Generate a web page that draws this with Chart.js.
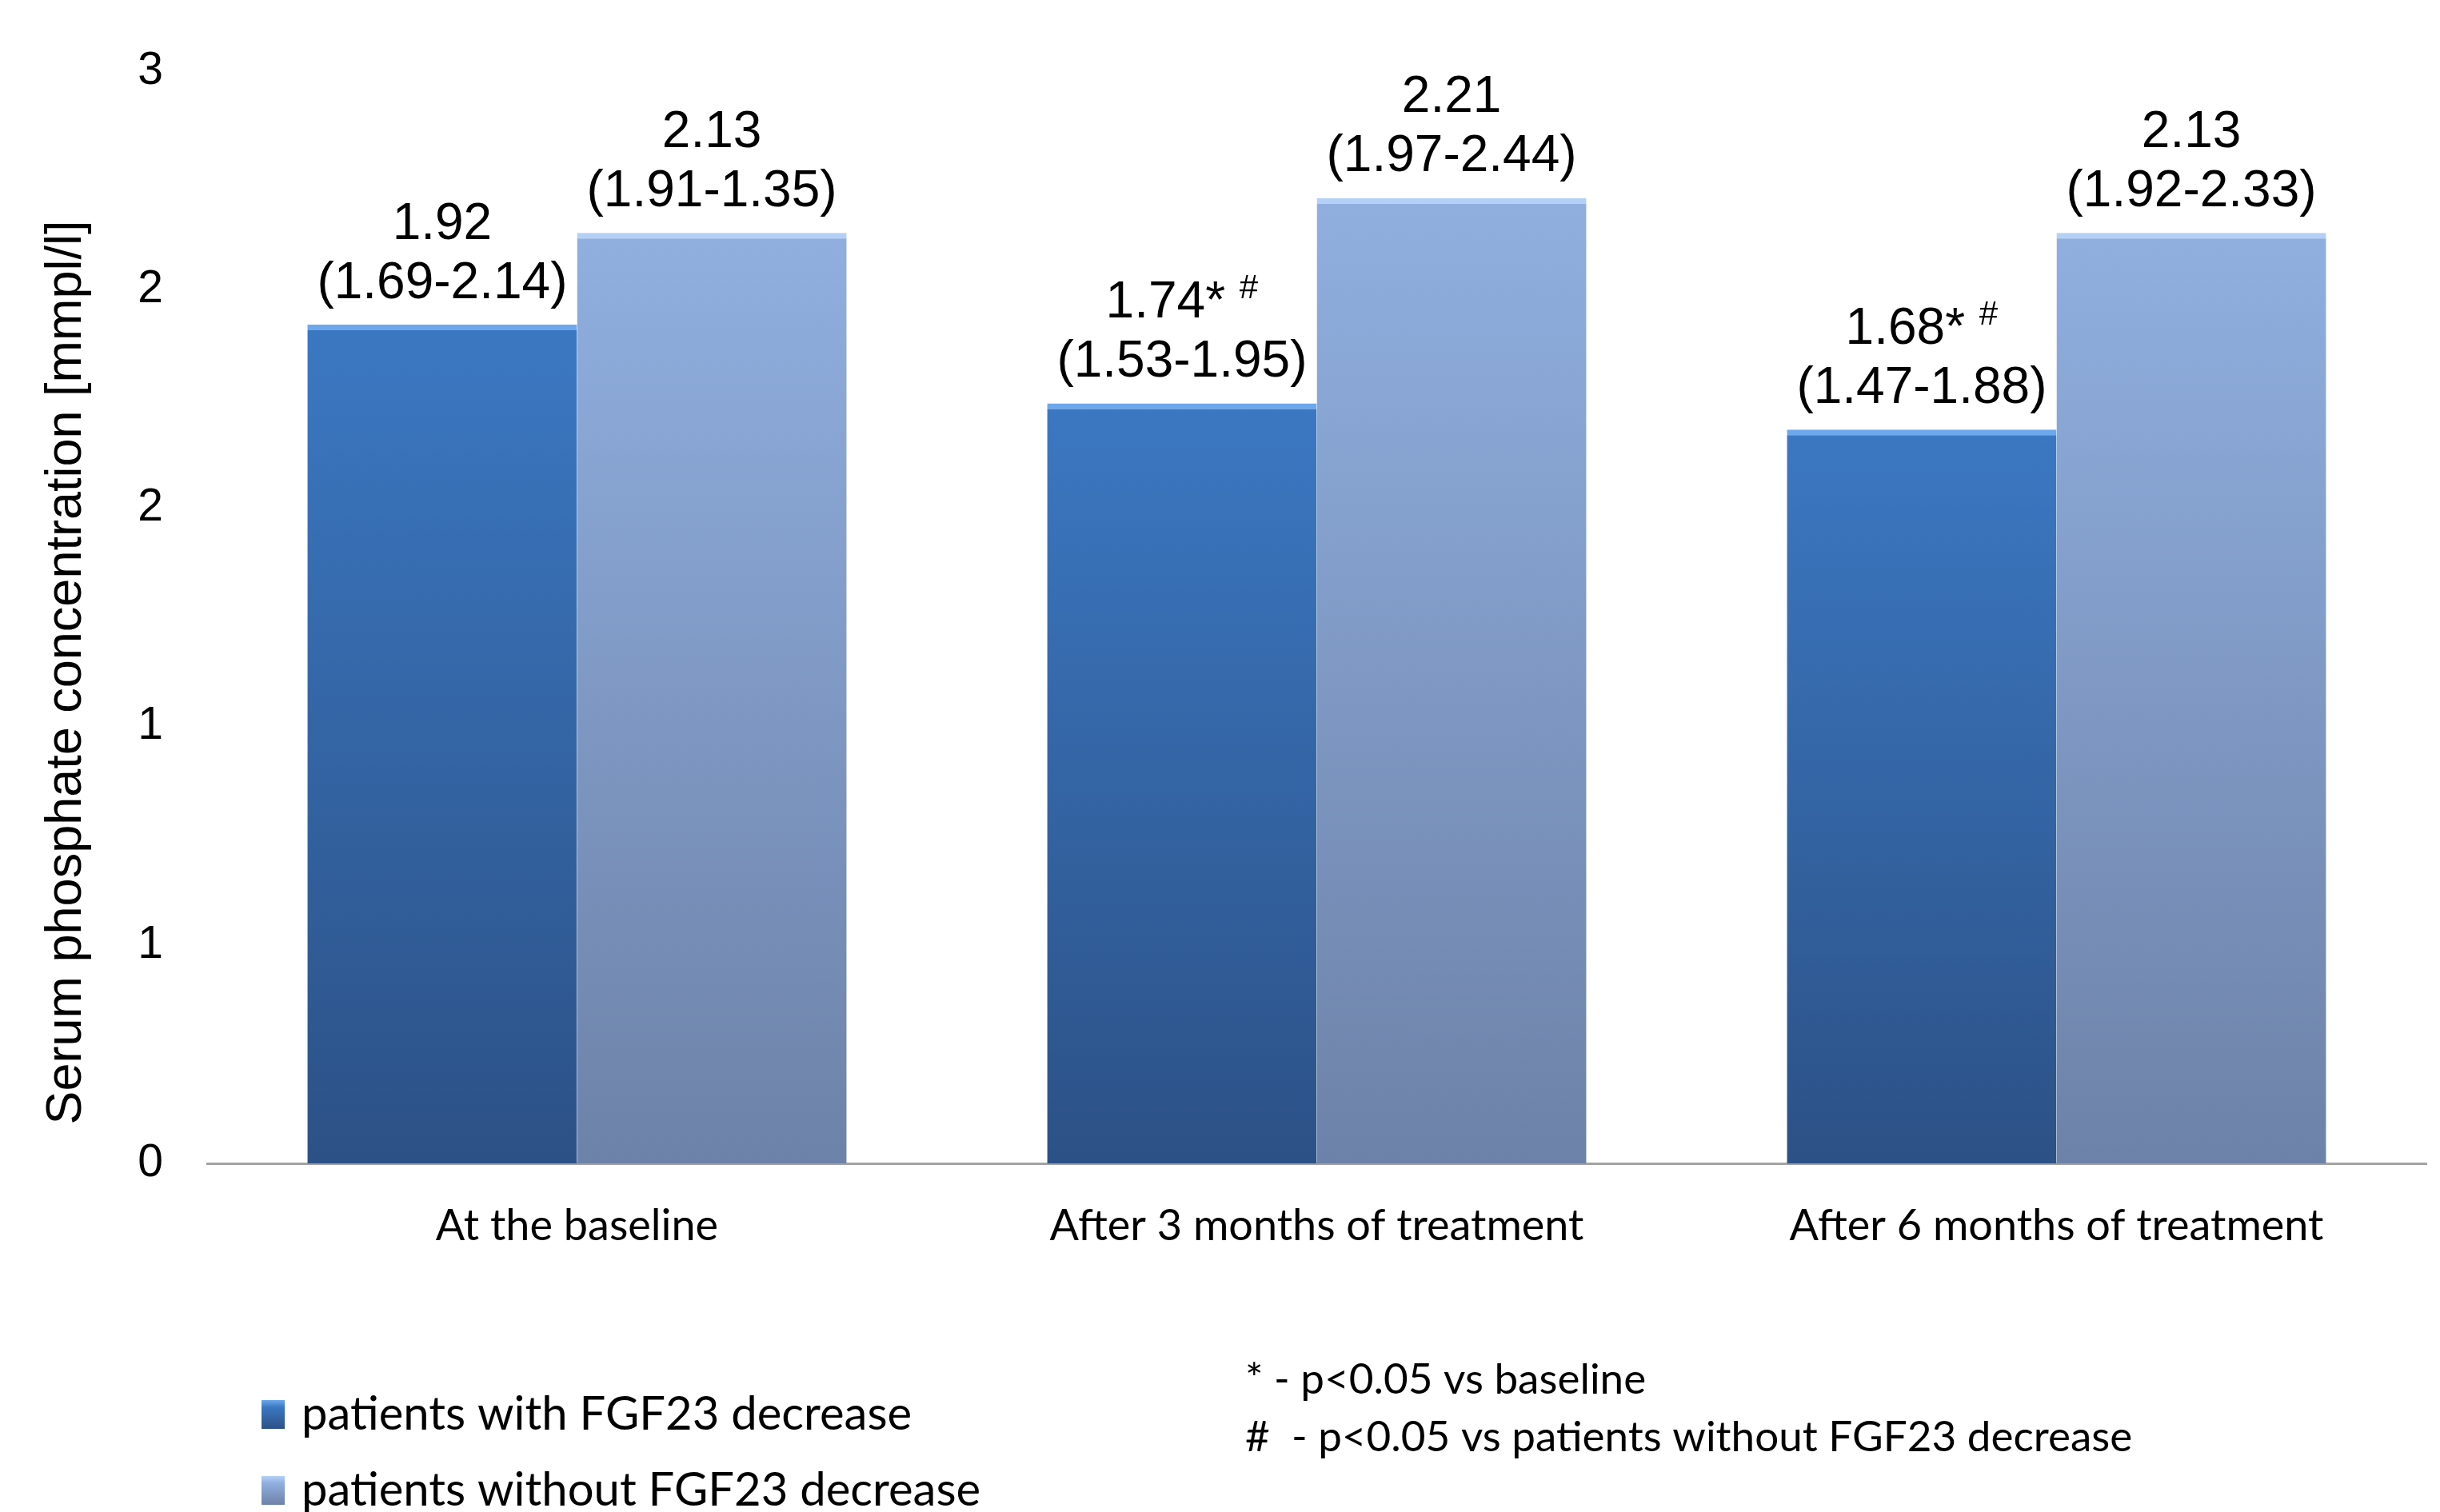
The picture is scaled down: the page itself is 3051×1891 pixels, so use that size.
<!DOCTYPE html>
<html>
<head>
<meta charset="utf-8">
<script src="https://cdn.jsdelivr.net/npm/chart.js@4"></script>
<style>
  body { margin: 0; background: #fff; }
</style>
</head>
<body>
<canvas id="grafico" width="3051" height="1891"></canvas>
<script>
const categorias = ['At the baseline', 'After 3 months of treatment', 'After 6 months of treatment'];
const nombresSeries = ['patients with FGF23 decrease', 'patients without FGF23 decrease'];

// medianas
const conDescenso = [1.92, 1.74, 1.68];
const sinDescenso = [2.13, 2.21, 2.13];

// rangos (tal como aparecen en la figura)
const conBajo = [1.69, 1.53, 1.47];
const conAlto = [2.14, 1.95, 1.88];
const sinBajo = [1.91, 1.97, 1.92];
const sinAlto = [1.35, 2.44, 2.33];

// marcas de significancia
const conAsterisco = ['', '*', '*'];
const conNumeral = ['', '#', '#'];
const sinAsterisco = ['', '', ''];
const sinNumeral = ['', '', ''];

const ticksY = [0, 0.5, 1, 1.5, 2, 2.5];

const tituloY = 'Serum phosphate concentration [mmpl/l]';
const notas = ['* - p<0.05 vs baseline', '#  - p<0.05 vs patients without FGF23 decrease'];

const FUENTE_NUM = '"Liberation Sans", Arial, sans-serif';
const FUENTE_TXT = 'Lato, "Open Sans", sans-serif';

function relleno(arriba, abajo) {
    return (c) => {
        const chart = c.chart;
        if (!chart.chartArea || c.type !== 'data') return arriba;
        const y = chart.scales.y;
        const g = chart.ctx.createLinearGradient(0, y.getPixelForValue(c.raw), 0, y.getPixelForValue(0));
        g.addColorStop(0, arriba);
        g.addColorStop(1, abajo);
        return g;
    };
}

const coloresSeries = [
    { arriba: '#3b78c2', abajo: '#2c5186', borde: '#6ea8ec' },
    { arriba: '#90afdf', abajo: '#6d82a8', borde: '#b4d0f6' }
];

// Etiquetas encima de las barras
const etiquetasBarras = {
    id: 'etiquetasBarras',
    afterDatasetsDraw(chart) {
        const ctx = chart.ctx;
        ctx.save();
        ctx.fillStyle = '#000';
        ctx.textBaseline = 'middle';
        chart.data.datasets.forEach((ds, i) => {
            chart.getDatasetMeta(i).data.forEach((barra, j) => {
                const x = barra.x;
                const y = barra.y;
                ctx.font = '64px ' + FUENTE_NUM;
                ctx.textAlign = 'center';
                ctx.fillText('(' + ds.bajo[j].toFixed(2) + '-' + ds.alto[j].toFixed(2) + ')', x, y - 51);

                const principal = ds.data[j].toFixed(2) + ds.asterisco[j] + (ds.numeral[j] ? ' ' : '');
                const w1 = ctx.measureText(principal).width;
                ctx.font = '42px ' + FUENTE_NUM;
                const w2 = ds.numeral[j] ? ctx.measureText(ds.numeral[j]).width : 0;
                const inicio = x - (w1 + w2) / 2;
                ctx.textAlign = 'left';
                ctx.font = '64px ' + FUENTE_NUM;
                ctx.fillText(principal, inicio, y - 125);
                if (ds.numeral[j]) {
                    ctx.font = '42px ' + FUENTE_NUM;
                    ctx.fillText(ds.numeral[j], inicio + w1, y - 143);
                }
            });
        });
        ctx.restore();
    }
};

// Título del eje Y, leyenda apilada y notas al pie
const leyendaYNotas = {
    id: 'leyendaYNotas',
    afterDraw(chart) {
        const ctx = chart.ctx;
        ctx.save();
        ctx.translate(84, 841);
        ctx.rotate(-Math.PI / 2);
        ctx.textAlign = 'center';
        ctx.textBaseline = 'middle';
        ctx.fillStyle = '#000';
        ctx.font = '63px ' + FUENTE_NUM;
        ctx.fillText(tituloY, 0, 0);
        ctx.restore();

        ctx.save();
        ctx.textBaseline = 'middle';
        ctx.textAlign = 'left';
        chart.data.datasets.forEach((ds, i) => {
            const yc = 1769 + i * 95;
            const col = coloresSeries[i];
            const g = ctx.createLinearGradient(0, yc - 18, 0, yc + 18);
            g.addColorStop(0, col.borde);
            g.addColorStop(0.25, col.arriba);
            g.addColorStop(1, col.abajo);
            ctx.fillStyle = g;
            ctx.fillRect(327, yc - 18, 29, 36);
            ctx.fillStyle = '#000';
            ctx.font = '58px ' + FUENTE_TXT;
            ctx.fillText(ds.label, 377, yc);
        });
        ctx.font = '53px ' + FUENTE_TXT;
        notas.forEach((t, i) => {
            ctx.fillText(t, 1557, 1726 + i * 72);
        });
        ctx.restore();
    }
};

const ctxGrafico = document.getElementById('grafico').getContext('2d');

new Chart(ctxGrafico, {
    type: 'bar',
    data: {
        labels: categorias,
        datasets: [
            {
                label: nombresSeries[0],
                data: conDescenso,
                bajo: conBajo,
                alto: conAlto,
                asterisco: conAsterisco,
                numeral: conNumeral,
                backgroundColor: relleno(coloresSeries[0].arriba, coloresSeries[0].abajo),
                borderColor: coloresSeries[0].borde,
                borderWidth: { top: 7, left: 0, right: 0, bottom: 0 },
                borderSkipped: false
            },
            {
                label: nombresSeries[1],
                data: sinDescenso,
                bajo: sinBajo,
                alto: sinAlto,
                asterisco: sinAsterisco,
                numeral: sinNumeral,
                backgroundColor: relleno(coloresSeries[1].arriba, coloresSeries[1].abajo),
                borderColor: coloresSeries[1].borde,
                borderWidth: { top: 7, left: 0, right: 0, bottom: 0 },
                borderSkipped: false
            }
        ]
    },
    options: {
        responsive: false,
        animation: false,
        devicePixelRatio: 1,
        categoryPercentage: 0.729,
        barPercentage: 1.0,
        layout: {
            padding: { left: 0, top: 82, right: 17, bottom: 0 }
        },
        plugins: {
            legend: { display: false },
            tooltip: { enabled: false }
        },
        scales: {
            x: {
                grid: { display: false, drawTicks: false },
                border: { display: true, color: '#a3a3a3', width: 3 },
                ticks: {
                    color: '#000',
                    padding: 46,
                    font: { family: FUENTE_TXT, size: 54 }
                },
                afterFit(escala) { escala.height = 436; }
            },
            y: {
                min: 0,
                max: 2.5,
                afterBuildTicks(escala) {
                    escala.ticks = ticksY.map(v => ({ value: v }));
                },
                grid: { display: false, drawTicks: false },
                border: { display: false },
                ticks: {
                    color: '#000',
                    padding: 55,
                    font: { family: FUENTE_NUM, size: 57 },
                    callback: (v) => Math.round(v)
                },
                afterFit(escala) { escala.width = 259; }
            }
        }
    },
    plugins: [etiquetasBarras, leyendaYNotas]
});
</script>
</body>
</html>
